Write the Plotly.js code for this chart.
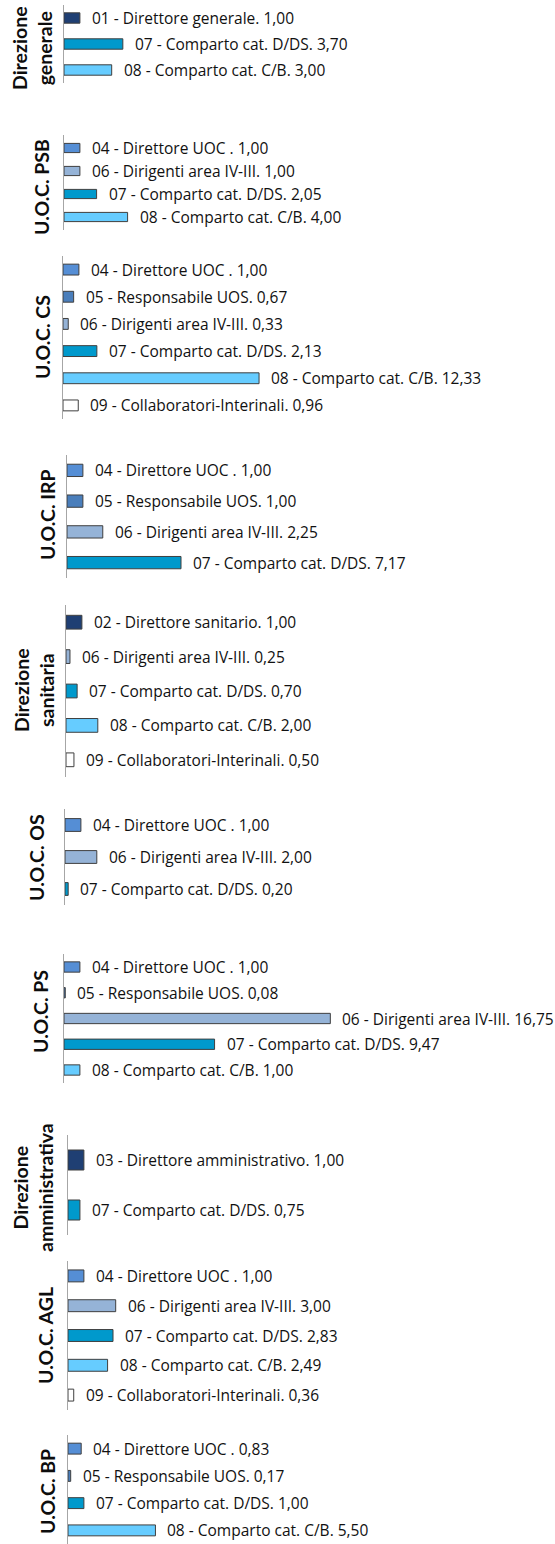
<!DOCTYPE html>
<html>
<head>
<meta charset="utf-8">
<script src="https://cdn.plot.ly/plotly-3.0.1.min.js"></script>
<style>html,body{margin:0;padding:0;background:#fff;}#chart{width:555px;height:1544px;}</style>
</head>
<body>
<div id="chart"></div>
<script>
// ---- DATA ----
const units = [
  "Direzione<br>generale", "U.O.C. PSB", "U.O.C. CS", "U.O.C. IRP", "Direzione<br>sanitaria",
  "U.O.C. OS", "U.O.C. PS", "Direzione<br>amministrativa", "U.O.C. AGL", "U.O.C. BP"
];
const roles = [
  ["01 - Direttore generale", "07 - Comparto cat. D/DS", "08 - Comparto cat. C/B"],
  ["04 - Direttore UOC ", "06 - Dirigenti area IV-III", "07 - Comparto cat. D/DS", "08 - Comparto cat. C/B"],
  ["04 - Direttore UOC ", "05 - Responsabile UOS", "06 - Dirigenti area IV-III", "07 - Comparto cat. D/DS", "08 - Comparto cat. C/B", "09 - Collaboratori-Interinali"],
  ["04 - Direttore UOC ", "05 - Responsabile UOS", "06 - Dirigenti area IV-III", "07 - Comparto cat. D/DS"],
  ["02 - Direttore sanitario", "06 - Dirigenti area IV-III", "07 - Comparto cat. D/DS", "08 - Comparto cat. C/B", "09 - Collaboratori-Interinali"],
  ["04 - Direttore UOC ", "06 - Dirigenti area IV-III", "07 - Comparto cat. D/DS"],
  ["04 - Direttore UOC ", "05 - Responsabile UOS", "06 - Dirigenti area IV-III", "07 - Comparto cat. D/DS", "08 - Comparto cat. C/B"],
  ["03 - Direttore amministrativo", "07 - Comparto cat. D/DS"],
  ["04 - Direttore UOC ", "06 - Dirigenti area IV-III", "07 - Comparto cat. D/DS", "08 - Comparto cat. C/B", "09 - Collaboratori-Interinali"],
  ["04 - Direttore UOC ", "05 - Responsabile UOS", "07 - Comparto cat. D/DS", "08 - Comparto cat. C/B"]
];
const values = [
  [1.00, 3.70, 3.00],
  [1.00, 1.00, 2.05, 4.00],
  [1.00, 0.67, 0.33, 2.13, 12.33, 0.96],
  [1.00, 1.00, 2.25, 7.17],
  [1.00, 0.25, 0.70, 2.00, 0.50],
  [1.00, 2.00, 0.20],
  [1.00, 0.08, 16.75, 9.47, 1.00],
  [1.00, 0.75],
  [1.00, 3.00, 2.83, 2.49, 0.36],
  [0.83, 0.17, 1.00, 5.50]
];

// ---- STYLE / LAYOUT ----
const roleColors = {"01":"#1F3F73","02":"#1F3F73","03":"#1F3F73","04":"#558ED5","05":"#4A7EBB","06":"#95B3D7","07":"#0099CC","08":"#66CCFF","09":"#FFFFFF"};
const W = 555, H = 1544;
const panelTop =    [5, 135, 256, 455, 605, 809, 954, 1135, 1261, 1435];
const panelBottom = [83, 230, 419, 578, 777, 905, 1083, 1235, 1410, 1544];
const axisX =       [64, 64, 63, 67, 66, 65, 64, 68, 68, 68];
const titleX =      [32, 42, 42, 47, 34, 36, 40, 33, 45, 47];
const titleY =      [48, 187, 337, 515, 690, 858, 1012, 1188, 1336, 1492];
const pxPerUnit = 15.9;
const fmt = v => v.toFixed(2).replace('.', ',');

const traces = [];
const annotations = [];
const layout = {
  width: W, height: H,
  margin: {l:0, r:0, t:0, b:0},
  paper_bgcolor: '#fff', plot_bgcolor: 'rgba(0,0,0,0)',
  showlegend: false,
  bargap: 0.6,
  font: {family: '"Open Sans", Lato, sans-serif', color: '#1a1a1a'},
  annotations: annotations
};

units.forEach((u, i) => {
  const k = i === 0 ? '' : String(i + 1);
  traces.push({
    type: 'bar', orientation: 'h',
    x: values[i], y: roles[i],
    xaxis: 'x' + k, yaxis: 'y' + k,
    marker: {
      color: roles[i].map(r => roleColors[r.slice(0, 2)]),
      line: {color: '#3f3f3f', width: 1}
    },
    hoverinfo: 'none', cliponaxis: false
  });
  layout['xaxis' + k] = {
    domain: [axisX[i] / W, 1],
    range: [0, (W - axisX[i]) / pxPerUnit],
    visible: false, fixedrange: true, anchor: 'y' + k
  };
  layout['yaxis' + k] = {
    domain: [1 - panelBottom[i] / H, 1 - panelTop[i] / H],
    type: 'category', autorange: 'reversed',
    showline: true, linecolor: '#a6a6a6', linewidth: 1,
    showticklabels: false, ticks: '', showgrid: false, zeroline: false,
    anchor: 'x' + k, fixedrange: true
  };
  roles[i].forEach((r, j) => {
    annotations.push({
      xref: 'x' + k, yref: 'y' + k,
      x: values[i][j], y: r,
      text: r + '. ' + fmt(values[i][j]),
      showarrow: false, xanchor: 'left', yanchor: 'middle', xshift: 10,
      font: {family: '"Open Sans", sans-serif', size: 15.5, color: '#111111'}
    });
  });
  annotations.push({
    xref: 'paper', yref: 'paper',
    x: titleX[i] / W, y: 1 - titleY[i] / H,
    text: '<b>' + u + '</b>', textangle: -90,
    showarrow: false, xanchor: 'center', yanchor: 'middle',
    font: {family: 'Lato, sans-serif', size: 19.5, color: '#0d0d0d'}
  });
});

Plotly.newPlot('chart', traces, layout, {displayModeBar: false, staticPlot: true});
</script>
</body>
</html>
